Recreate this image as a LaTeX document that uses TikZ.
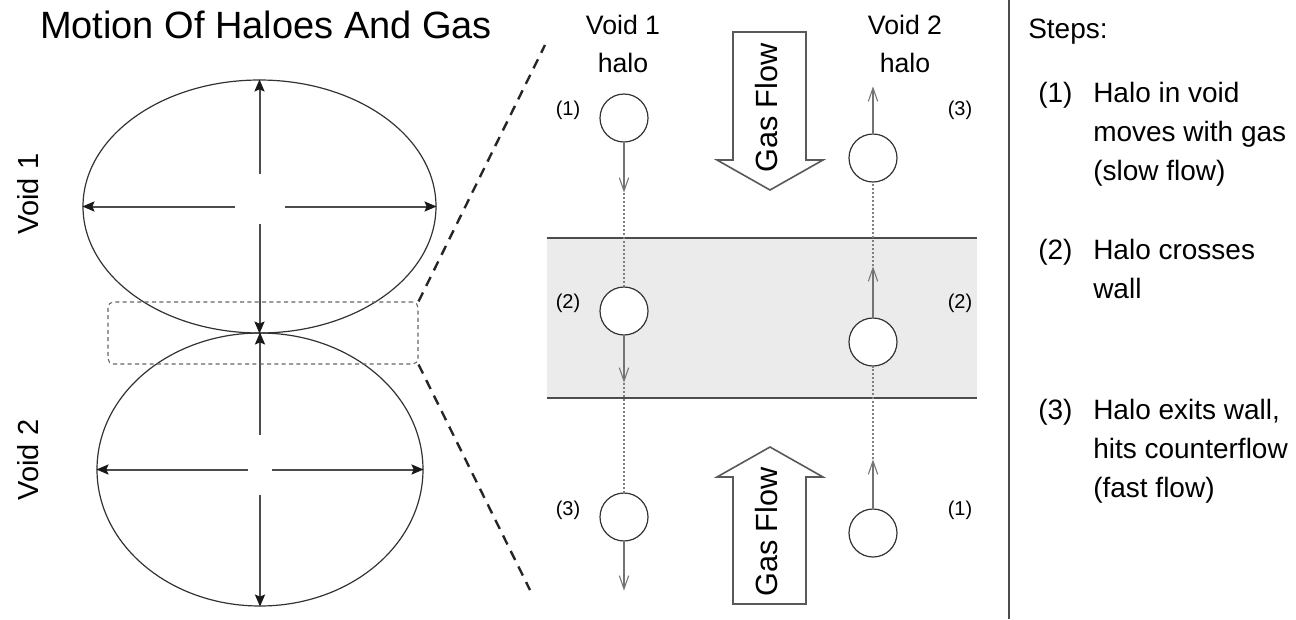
\documentclass[tikz,border=0pt]{standalone}
\usepackage{fontspec}
\setmainfont{Liberation Sans}
\usetikzlibrary{arrows.meta, positioning, shapes.geometric}

\begin{document}
\begin{tikzpicture}[
  x=0.75pt, y=-0.75pt,
  voidshape/.style={ellipse, draw=black!80, line width=0.9pt, inner sep=0pt},
  dimarrow/.style={draw=black!70, line width=1.5pt,
                   -{Stealth[length=9pt, width=7.5pt, inset=1.5pt, black!90]}},
  halo/.style={circle, draw=black!80, line width=0.9pt, fill=white,
               minimum size=36pt, inner sep=0pt},
  moveline/.style={draw=black!55, line width=0.8pt,
                   -{Straight Barb[length=10pt, width=7pt]}},
  trail/.style={draw=black!50, line width=0.8pt, dash pattern=on 1.5pt off 1.5pt},
  zoomline/.style={draw=black!85, line width=1.8pt, dash pattern=on 7.5pt off 5.5pt},
  gasbox/.style={draw=black!65, line width=1.2pt, fill=white},
  gasfont/.style={font=\fontsize{23}{27}\selectfont, inner sep=0pt, rotate=90},
  num/.style={font=\fontsize{15}{18}\selectfont, inner sep=0pt},
  stepnum/.style={font=\fontsize{21}{25}\selectfont, inner sep=0pt, anchor=base west},
  steptext/.style={font=\fontsize{21}{29.25}\selectfont, align=left,
                   inner sep=0pt, anchor=north west}
]
\useasboundingbox (0,0) rectangle (1296,619);

% Title
\node[font=\fontsize{28.5}{34}\selectfont] (title) at (266,24.5) {Motion Of Haloes And Gas};

% Voids
\node[voidshape, minimum width=264.75pt, minimum height=189.75pt] (voidA) at (259.5,206.5) {};
\node[voidshape, minimum width=244.5pt, minimum height=204.75pt] (voidB) at (260,469.5) {};
\node[font=\fontsize{21.75}{26}\selectfont, rotate=90] (voidAlab) at (28,194) {Void 1};
\node[font=\fontsize{21.75}{26}\selectfont, rotate=90] (voidBlab) at (28,460) {Void 2};

% Void extents
\draw[dimarrow] (voidA.center) ++(0,-33) -- (voidA.north);
\draw[dimarrow] (voidA.center) ++(0,17) -- (voidA.south);
\draw[dimarrow] (voidA.center) ++(-25,0) -- (voidA.west);
\draw[dimarrow] (voidA.center) ++(25,0) -- (voidA.east);
\draw[dimarrow] (voidB.center) ++(0,-35) -- (voidB.north);
\draw[dimarrow] (voidB.center) ++(0,25) -- (voidB.south);
\draw[dimarrow] (voidB.center) ++(-12,0) -- (voidB.west);
\draw[dimarrow] (voidB.center) ++(12,0) -- (voidB.east);

% Zoomed region
\node[draw=black!60, line width=0.8pt, dash pattern=on 3pt off 2.5pt, rounded corners=4pt,
      minimum width=232.5pt, minimum height=46.5pt] (zoomrect) at (263,333) {};
\coordinate (zoomtop) at (545,45);
\coordinate (zoombot) at (530,590);
\draw[zoomline] (zoomrect.north east) -- (zoomtop);
\draw[zoomline] (zoomrect.south east) -- (zoombot);

% Wall
\node[fill=black!8, minimum width=322.5pt, minimum height=120pt, inner sep=0pt] (wall) at (762,318) {};
\draw[black!70, line width=1.3pt] (wall.north west) -- (wall.north east);
\draw[black!70, line width=1.3pt] (wall.south west) -- (wall.south east);

% Column titles
\node[font=\fontsize{20}{28.5}\selectfont, align=center] (colA) at (623,44) {Void 1\\halo};
\node[font=\fontsize{20}{28.5}\selectfont, align=center] (colB) at (905,44) {Void 2\\halo};

% Gas flow
\draw[gasbox] (733,32) -- (806,32) -- (806,160) -- (823,160) -- (770,190) -- (717,160) -- (733,160) -- cycle;
\node[gasfont] (gasA) at (767,108) {Gas Flow};
\draw[gasbox] (770,447) -- (823,477) -- (806,477) -- (806,604) -- (733,604) -- (733,477) -- (717,477) -- cycle;
\node[gasfont] (gasB) at (767,532) {Gas Flow};

% Void 1 halo
\node[halo] (h1a) at (624,118) {};
\node[halo] (h1b) at (624,311) {};
\node[halo] (h1c) at (624,517) {};
\draw[moveline] (h1a.south) -- ++(0,50) coordinate (t1a);
\draw[trail] (t1a) -- (h1b.north);
\draw[moveline] (h1b.south) -- ++(0,47) coordinate (t1b);
\draw[trail] (t1b) -- (h1c.north);
\draw[moveline] (h1c.south) -- ++(0,49);

% Void 2 halo
\node[halo] (h2a) at (873,533) {};
\node[halo] (h2b) at (873,342) {};
\node[halo] (h2c) at (873,158) {};
\draw[moveline] (h2a.north) -- ++(0,-49) coordinate (t2a);
\draw[trail] (t2a) -- (h2b.south);
\draw[moveline] (h2b.north) -- ++(0,-51) coordinate (t2b);
\draw[trail] (t2b) -- (h2c.south);
\draw[moveline] (h2c.north) -- ++(0,-47);

% Step numbers
\node[num] (n1a) at (568,110) {(1)};
\node[num] (n1b) at (568,303) {(2)};
\node[num] (n1c) at (568,510) {(3)};
\node[num] (n2c) at (960,110) {(3)};
\node[num] (n2b) at (960,303) {(2)};
\node[num] (n2a) at (960,510) {(1)};

% Steps panel
\coordinate (divtop) at (1009,0);
\coordinate (divbot) at (1009,619);
\draw[black!70, line width=1.5pt] (divtop) -- (divbot);
\node[stepnum] (steps) at (1028,38) {Steps:};
\node[stepnum] (s1) at (1038,102) {(1)};
\node[steptext] (t1) at (1093,81.6) {Halo in void\\moves with gas\\(slow flow)};
\node[stepnum] (s2) at (1038,259) {(2)};
\node[steptext] (t2) at (1093,238.6) {Halo crosses\\wall};
\node[stepnum] (s3) at (1038,419) {(3)};
\node[steptext] (t3) at (1093,398.6) {Halo exits wall,\\hits counterflow\\(fast flow)};

\end{tikzpicture}
\end{document}
